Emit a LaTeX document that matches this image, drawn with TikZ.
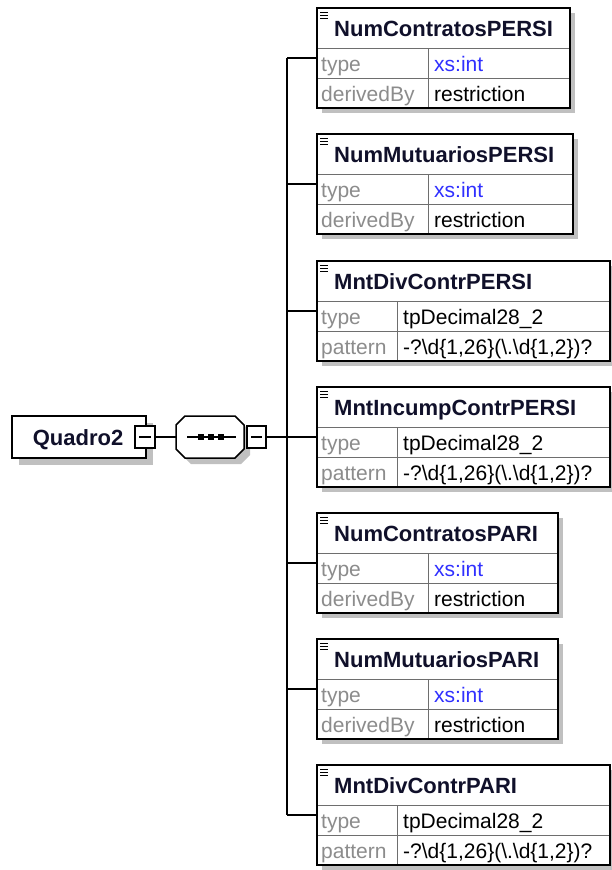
\documentclass[tikz,border=0pt]{standalone}
\usepackage{fontspec}
\setmainfont{Liberation Sans}
\usetikzlibrary{shadows}
\definecolor{shd}{HTML}{C0C0C0}
\definecolor{lblgray}{HTML}{8C8C8C}
\definecolor{valblue}{HTML}{3030FF}
\definecolor{rowline}{HTML}{6E6E6E}
\definecolor{hdrtext}{HTML}{10102A}
\tikzset{
 ebox/.style={draw=black, line width=2pt, fill=white, rectangle, inner sep=0pt, outer sep=0pt,
   anchor=north west, minimum height=100pt,
   drop shadow={shadow xshift=5pt, shadow yshift=-5pt, fill=shd, opacity=1}},
 hdr/.style={anchor=base west, inner sep=0pt, text=hdrtext, font=\fontsize{22}{24}\selectfont\bfseries},
 lbl/.style={anchor=base west, inner sep=0pt, text=lblgray, font=\fontsize{21}{24}\selectfont},
 val/.style={anchor=base west, inner sep=0pt, font=\fontsize{21}{24}\selectfont},
 sepline/.style={draw=rowline, line width=1pt},
 conn/.style={draw=black, line width=2pt},
 minusbox/.style={draw=black, line width=1.5pt, fill=white, rectangle, minimum height=22pt, inner sep=0pt, outer sep=0pt},
}
\newcommand\elem[9]{%
 \node[ebox, minimum width={(#3-317)*1pt}] (#1) at (317,#2) {};
 \draw[sepline] (318,#2+40.5) -- (#3-1,#2+40.5);
 \draw[sepline] (318,#2+70.5) -- (#3-1,#2+70.5);
 \draw[sepline] (#4+0.5,#2+40.5) -- (#4+0.5,#2+99);
 \draw[line width=1.2pt] (320,#2+4.5) -- (328,#2+4.5) (320,#2+7.5) -- (328,#2+7.5) (320,#2+10.5) -- (328,#2+10.5);
 \node[hdr] (#1-t) at (334,#2+28) {#5};
 \node[lbl] (#1-l1) at (321,#2+63) {type};
 \node[val, text=#6] (#1-v1) at (#4+6,#2+63) {#7};
 \node[lbl] (#1-l2) at (321,#2+93) {#8};
 \node[val] (#1-v2) at (#4+6,#2+93) {#9};
}
\newcommand\patt{-?\textbackslash d\{1,26\}(\textbackslash .\textbackslash d\{1,2\})?}
\begin{document}
\begin{tikzpicture}[x=1pt,y=-1pt]
\useasboundingbox (0,0) rectangle (611,870);
\coordinate (bus) at (287,437);

% root element
\node[draw=black, line width=2pt, fill=white, rectangle, inner sep=0pt, outer sep=0pt,
  minimum width=134pt, minimum height=42pt, anchor=north west,
  drop shadow={shadow xshift=7pt, shadow yshift=-7pt, fill=shd, opacity=1}] (q) at (12,416) {};
\node[anchor=base, inner sep=0pt, text=hdrtext, font=\fontsize{22}{24}\selectfont\bfseries] (qt) at (78,445) {Quadro2};
\node[minusbox, minimum width=20pt] (qm) at (145,437) {};
\draw[line width=1.5pt] ([xshift=4pt]qm.west) -- ([xshift=-4pt]qm.east);

% sequence compositor
\node[rectangle, inner sep=0pt, outer sep=0pt, minimum width=68pt, minimum height=42pt] (seq) at (210,437) {};
\path[draw=black, line width=1.5pt, fill=white,
  drop shadow={shadow xshift=6pt, shadow yshift=-6pt, fill=shd, opacity=1}]
  ([xshift=9pt]seq.north west) -- ([xshift=-9pt]seq.north east) -- ([yshift=-9pt]seq.north east)
  -- ([yshift=9pt]seq.south east) -- ([xshift=-9pt]seq.south east) -- ([xshift=9pt]seq.south west)
  -- ([yshift=9pt]seq.south west) -- ([yshift=-9pt]seq.north west) -- cycle;
\draw[line width=2pt] ([xshift=11pt]seq.west) -- ([xshift=-8pt]seq.east);
\fill (197.5,434) rectangle (203.5,440);
\fill (207.5,434) rectangle (213.5,440);
\fill (217.5,434) rectangle (223.5,440);
\node[minusbox, minimum width=19pt] (sm) at (256.5,437) {};
\draw[line width=1.5pt] ([xshift=4pt]sm.west) -- ([xshift=-4pt]sm.east);

% elements
\elem{e1}{8}{570}{428}{NumContratosPERSI}{valblue}{xs:int}{derivedBy}{restriction}
\elem{e2}{134}{573}{428}{NumMutuariosPERSI}{valblue}{xs:int}{derivedBy}{restriction}
\elem{e3}{261}{610}{397}{MntDivContrPERSI}{black}{tpDecimal28\_2}{pattern}{\patt}
\elem{e4}{387}{610}{397}{MntIncumpContrPERSI}{black}{tpDecimal28\_2}{pattern}{\patt}
\elem{e5}{513}{558}{428}{NumContratosPARI}{valblue}{xs:int}{derivedBy}{restriction}
\elem{e6}{639}{558}{428}{NumMutuariosPARI}{valblue}{xs:int}{derivedBy}{restriction}
\elem{e7}{765}{610}{397}{MntDivContrPARI}{black}{tpDecimal28\_2}{pattern}{\patt}

% connectors
\draw[conn] (qm.east) -- (seq.west);
\draw[conn] (sm.east) -- (sm.east -| bus);
\draw[conn] (e1.west -| bus) -- (e7.west -| bus);
\foreach \i in {1,...,7} { \draw[conn] (e\i.west -| bus) -- (e\i.west); }
\end{tikzpicture}
\end{document}
